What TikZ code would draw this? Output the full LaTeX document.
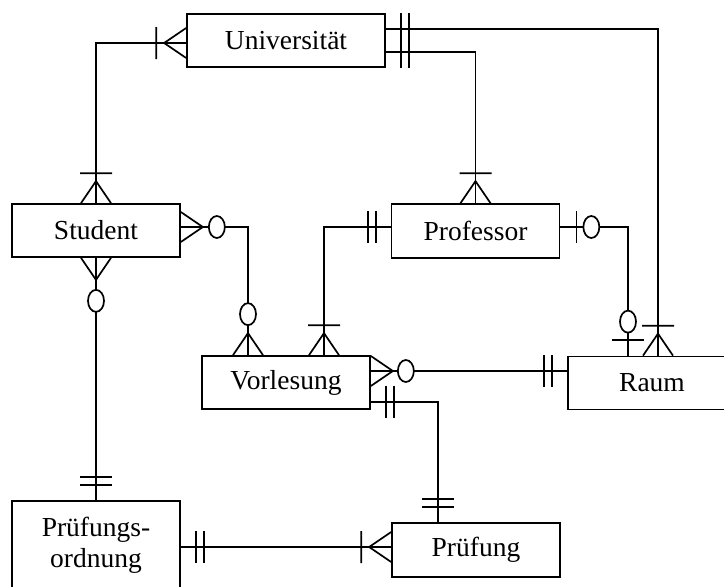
\documentclass[tikz,border=0pt]{standalone}
\usepackage{fontspec}
\setmainfont{Liberation Serif}
\usetikzlibrary{shapes.geometric}

\begin{document}
\begin{tikzpicture}[
  x=1pt, y=-1pt,
  line width=1.7pt,
  entity/.style={draw, minimum width=168pt, minimum height=53pt, inner sep=0pt, align=center, font=\fontsize{27.5}{31}\selectfont},
  ring/.style={draw, fill=white, ellipse, minimum width=16pt, minimum height=22pt, inner sep=0pt},
  pics/one/.style={code={
    \draw (15,-16) -- (15,16) (23,-16) -- (23,16);}},
  pics/many1/.style={code={
    \draw (0,15) -- (22,0) -- (0,-15) (30,-16) -- (30,16);}},
  pics/many0/.style={code={
    \draw (0,15) -- (22,0) -- (0,-15);
    \node[ring] at (#1,0) {};}},
  pics/zeroone/.style={code={
    \draw (16,-16) -- (16,16);
    \node[ring] at (#1,0) {};}}
]
\useasboundingbox[fill=white] (0,0) rectangle (724,587);

\node[entity, minimum width=198pt] (uni) at (286,40.5) {Universität};
\node[entity] (stud) at (96,230.5) {Student};
\node[entity, minimum height=54pt] (prof) at (475.5,231) {Professor};
\node[entity] (vorl) at (286,382.5) {Vorlesung};
\node[entity] (raum) at (652,383) {Raum};
\node[entity, minimum height=88pt] (pord) at (96,545) {Prüfungs-\\ordnung};
\node[entity, minimum height=54pt] (pruef) at (476,550) {Prüfung};

% connector ends
\coordinate (uniL) at ([yshift=-2.5pt]uni.west);
\coordinate (uniR1) at ([yshift=11.5pt]uni.east);
\coordinate (uniR2) at ([yshift=-11.5pt]uni.east);
\coordinate (studR) at ([yshift=3.5pt]stud.east);
\coordinate (profL) at ([yshift=4pt]prof.west);
\coordinate (profR) at ([yshift=4pt]prof.east);
\coordinate (vorlR1) at ([yshift=11.5pt]vorl.east);
\coordinate (vorlR2) at ([yshift=-19.5pt]vorl.east);
\coordinate (vorlT1) at ([xshift=-38pt]vorl.north);
\coordinate (vorlT2) at ([xshift=38pt]vorl.north);
\coordinate (raumT1) at ([xshift=-24pt]raum.north);
\coordinate (raumT2) at ([xshift=6pt]raum.north);
\coordinate (pordR) at ([yshift=-2pt]pord.east);
\coordinate (pruefT) at ([xshift=-38pt]pruef.north);

% relationships
\draw (uniL) -| (stud.north);
\draw (uniR2) -| (prof.north);
\draw (uniR1) -| (raumT2);
\draw (studR) -| (vorlT1);
\draw (profL) -| (vorlT2);
\draw (profR) -| (raumT1);
\draw (vorlR1) -- (vorlR1 -| raum.west);
\draw (vorlR2) -| (pruefT);
\draw (stud.south) -- (pord.north);
\draw (pordR) -- (pordR -| pruef.west);

% cardinalities
\pic[rotate=180] at (uniL) {many1};
\pic[rotate=90] at (stud.north) {many1};
\pic at (uniR1) {one};
\pic at (uniR2) {one};
\pic[rotate=90] at (prof.north) {many1};
\pic[rotate=90] at (raumT2) {many1};
\pic at (studR) {many0=36};
\pic[rotate=90] at (vorlT1) {many0=41};
\pic[rotate=-90] at (stud.south) {many0=43};
\pic[rotate=180] at (profL) {one};
\pic[rotate=90] at (vorlT2) {many1};
\pic at (profR) {zeroone=31};
\pic[rotate=90] at (raumT1) {zeroone=34};
\pic at (vorlR1) {many0=35};
\pic[rotate=180] at (vorlR1 -| raum.west) {one};
\pic at (vorlR2) {one};
\pic[rotate=90] at (pruefT) {one};
\pic[rotate=90] at (pord.north) {one};
\pic at (pordR) {one};
\pic[rotate=180] at (pordR -| pruef.west) {many1};
\end{tikzpicture}
\end{document}
